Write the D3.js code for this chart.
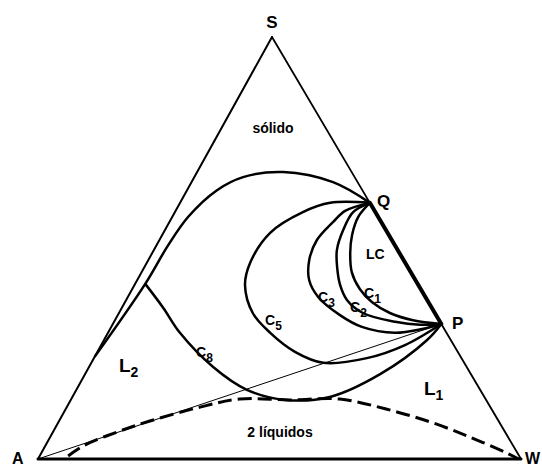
<!DOCTYPE html>
<html>
<head>
<meta charset="utf-8">
<script src="https://cdn.jsdelivr.net/npm/d3@7"></script>
<style>
  html, body { margin: 0; padding: 0; background: #fff; }
  svg { display: block; }
  text { font-family: "Liberation Sans", Arial, sans-serif; fill: #000; }
</style>
</head>
<body>
<svg id="chart" width="542" height="468"></svg>
<script>
// Ternary compositions in percent, stored as [W, S]; A = 100 - W - S.
const vertexNames = ["A", "W", "S"];
const vertexComps = [[0, 0], [100, 0], [0, 100]];

const pointQ = [39.3, 60.7];
const pointP = [68.0, 32.0];

// boundary of the solid region, from Q to the A–S side
const solidBoundary = [pointQ, [29.3, 65.6], [17.8, 68.0], [10.1, 66.8], [6.2, 63.7],
  [3.3, 57.4], [2.4, 50.5], [2.1, 41.5], [0, 24.2]];

const curveC8 = [[2.1, 41.5], [8.6, 35.8], [14.9, 29.9], [25.7, 21.8], [35.3, 16.4],
  [44.4, 14.0], [53.3, 14.7], [61.1, 20.1], [66.9, 28.2], pointP];

const curveC5 = [pointQ, [31.1, 60.7], [26.5, 58.5], [22.1, 53.6], [21.4, 46.5],
  [22.9, 41.2], [27.7, 34.6], [33.6, 29.9], [40.9, 25.4], [48.0, 22.8],
  [56.5, 23.9], [62.9, 27.0], pointP];

const curveC3 = [pointQ, [35.1, 58.8], [33.9, 56.2], [32.6, 51.9], [33.3, 47.2],
  [35.6, 42.4], [39.4, 38.4], [46.0, 34.1], [51.9, 31.3], [59.4, 29.9],
  [64.6, 30.8], pointP];

const curveC2 = [pointQ, [36.9, 58.5], [36.9, 54.3], [37.9, 49.5], [40.0, 45.3],
  [42.6, 41.2], [45.7, 37.7], [50.5, 34.6], [58.2, 32.5], [63.7, 31.8], pointP];

const curveC1 = [pointQ, [38.5, 57.4], [39.3, 53.1], [41.0, 48.8], [43.5, 44.3],
  [47.1, 40.3], [51.1, 37.2], [56.1, 34.6], [61.7, 32.9], pointP];

// liquid–liquid binodal (dashed)
const binodal = [[5.9, 0.7], [8.1, 3.3], [13.3, 6.4], [18.8, 9.0], [27.6, 12.3],
  [34.9, 14.2], [45.4, 14.0], [55.6, 14.2], [66.1, 11.9], [76.9, 8.8],
  [86.9, 5.2], [96.4, 1.4], [99.5, 0]];

// tie line A–P
const tieLine = [[0, 0], pointP];

const curveLabels = ["LC", "C1", "C2", "C3", "C5", "C8"];
const regionLabels = ["sólido", "2 líquidos", "L1", "L2"];

// ---- projection -------------------------------------------------------
const svg = d3.select("#chart");
const xScale = d3.scaleLinear().domain([0, 100]).range([38, 521]);
const yScale = d3.scaleLinear().domain([0, 100]).range([459, 37]);
const skew = 234 / 483; // horizontal offset of the S apex relative to the base
const project = ([w, s]) => [xScale(w + skew * s), yScale(s)];

const smooth = d3.line().x(d => project(d)[0]).y(d => project(d)[1])
  .curve(d3.curveCatmullRom.alpha(0.5));
const straight = d3.line().x(d => project(d)[0]).y(d => project(d)[1]);

const [A, W, S] = vertexComps;

// triangle sides
const sides = [
  { pts: [A, W], width: 3 },
  { pts: [A, S], width: 2 },
  { pts: [S, pointQ], width: 1.8 },
  { pts: [pointQ, pointP], width: 4 },
  { pts: [pointP, W], width: 1.8 }
];
svg.append("g").selectAll("path").data(sides).join("path")
  .attr("d", d => straight(d.pts))
  .attr("fill", "none").attr("stroke", "#000")
  .attr("stroke-width", d => d.width).attr("stroke-linecap", "round");

// tie line
svg.append("path").attr("d", straight(tieLine))
  .attr("fill", "none").attr("stroke", "#000").attr("stroke-width", 1);

// binodal
svg.append("path").attr("d", smooth(binodal))
  .attr("fill", "none").attr("stroke", "#000").attr("stroke-width", 3)
  .attr("stroke-dasharray", "14,6");

// solid-boundary and C curves
const curves = [solidBoundary, curveC8, curveC5, curveC3, curveC2, curveC1];
svg.append("g").selectAll("path").data(curves).join("path")
  .attr("d", d => smooth(d))
  .attr("fill", "none").attr("stroke", "#000").attr("stroke-width", 2.5)
  .attr("stroke-linejoin", "round");

// ---- labels ---------------------------------------------------------
function label(x, y, main, sub, size, subSize, weight, anchor) {
  const t = svg.append("text").attr("x", x).attr("y", y)
    .attr("font-size", size).attr("font-weight", weight)
    .attr("text-anchor", anchor || "start");
  t.append("tspan").text(main);
  if (sub) t.append("tspan").attr("font-size", subSize).attr("dy", 5).text(sub);
  return t;
}

// vertex names
label(272, 28, vertexNames[2], null, 17, 0, "bold", "middle");
label(12, 464, vertexNames[0], null, 16, 0, "bold");
label(525, 464, vertexNames[1], null, 16, 0, "bold");
label(377, 207, "Q", null, 17, 0, "bold");
label(452, 329, "P", null, 17, 0, "bold");

// region names
label(273, 133, regionLabels[0], null, 14, 0, "bold", "middle");
label(280, 437, regionLabels[1], null, 14, 0, "bold", "middle");
label(424, 395, "L", "1", 19, 14, "bold");
label(119, 372, "L", "2", 19, 14, "bold");

// curve names
label(366, 259, curveLabels[0], null, 14, 0, "bold");
label(364, 298, "C", "1", 14, 12, "bold");
label(350, 312, "C", "2", 14, 12, "bold");
label(318, 302, "C", "3", 14, 12, "bold");
label(265, 325, "C", "5", 14, 12, "bold");
label(196, 357, "C", "8", 14, 12, "bold");
</script>
</body>
</html>
